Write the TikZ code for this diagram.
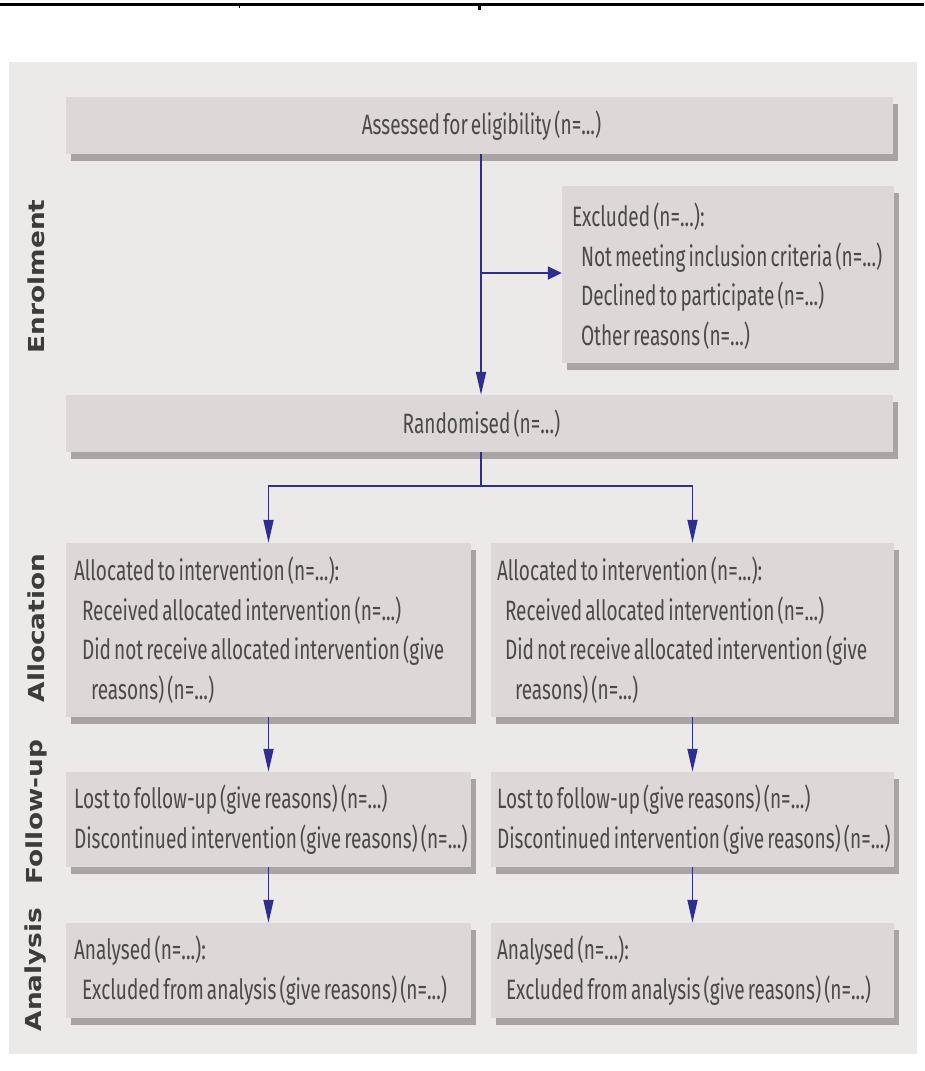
\documentclass[tikz,border=0pt]{standalone}
\usepackage{fontspec}
\setmainfont[FakeStretch=0.68,WordSpace=0.62]{Fira Sans}
\newfontfamily\labelfont[FakeStretch=1.2]{DejaVu Sans}
\usetikzlibrary{arrows.meta,shadows}
\definecolor{panel}{HTML}{EBEAE8}
\definecolor{boxc}{HTML}{DCD8D7}
\definecolor{shadowc}{HTML}{A8A4A3}
\definecolor{arrowc}{HTML}{2E2E8C}
\definecolor{textc}{HTML}{4A4A4A}
\definecolor{labc}{HTML}{3C3C3C}
\tikzset{
  box/.style={fill=boxc, draw=none, inner sep=0pt,
    drop shadow={shadow xshift=5pt, shadow yshift=-7pt, fill=shadowc, opacity=1}},
  txt/.style={inner sep=0pt, align=flush left, anchor=west, text=textc,
    font=\fontsize{28}{39.5}\selectfont},
  ctxt/.style={txt, anchor=center, align=flush center},
  side/.style={rotate=90, text=labc, font=\labelfont\bfseries\fontsize{22}{26}\selectfont, inner sep=0pt},
  link/.style={draw=arrowc, line width=1.8pt},
  varrow/.style={link, -{Triangle[length=23pt,width=10pt]}},
  harrow/.style={link, -{Triangle[length=14pt,width=13pt]}}
}
\newcommand{\ind}[1]{\hspace*{#1pt}}
\begin{document}
\begin{tikzpicture}[x=1pt,y=-1pt]
\useasboundingbox (0,0) rectangle (924,1071);
% top rule
\fill[black] (0,3) rectangle (924,5.5);
\fill[black] (238.5,5.5) rectangle (239.5,7.5);
\fill[black] (477.5,5.5) rectangle (480.5,10);
% panel
\fill[panel] (9,62) rectangle (917,1054);
% boxes
\node[box, minimum width=827pt, minimum height=57pt] (assess) at (479.5,125.5) {};
\node[box, minimum width=332pt, minimum height=177pt] (excl) at (728,274.5) {};
\node[box, minimum width=827pt, minimum height=57pt] (rand) at (479.5,423.5) {};
\node[box, minimum width=405pt, minimum height=174pt] (allocL) at (268.5,630) {};
\node[box, minimum width=403pt, minimum height=174pt] (allocR) at (692.5,630) {};
\node[box, minimum width=405pt, minimum height=95pt] (fuL) at (268.5,819.5) {};
\node[box, minimum width=403pt, minimum height=95pt] (fuR) at (692.5,819.5) {};
\node[box, minimum width=405pt, minimum height=95pt] (anL) at (268.5,970.5) {};
\node[box, minimum width=403pt, minimum height=95pt] (anR) at (692.5,970.5) {};
% texts
\node[ctxt] (assessT) at ([xshift=2pt]assess.center) {Assessed for eligibility (n=...)};
\node[ctxt] (randT) at ([xshift=2pt]rand.center) {Randomised (n=...)};
\node[txt] (exclT) at ([xshift=10pt,yshift=-1.5pt]excl.west)
  {Excluded (n=...):\\ \ind{9}Not meeting inclusion criteria (n=...)\\ \ind{9}Declined to participate (n=...)\\ \ind{9}Other reasons (n=...)};
\node[txt] (allocLT) at ([xshift=8pt]allocL.west)
  {Allocated to intervention (n=...):\\ \ind{8}Received allocated intervention (n=...)\\ \ind{8}Did not receive allocated intervention (give\\ \ind{17}reasons) (n=...)};
\node[txt] (allocRT) at ([xshift=6pt]allocR.west)
  {Allocated to intervention (n=...):\\ \ind{8}Received allocated intervention (n=...)\\ \ind{8}Did not receive allocated intervention (give\\ \ind{18}reasons) (n=...)};
\node[txt] (fuLT) at ([xshift=8pt]fuL.west)
  {Lost to follow-up (give reasons) (n=...)\\ Discontinued intervention (give reasons) (n=...)};
\node[txt] (fuRT) at ([xshift=6pt]fuR.west)
  {Lost to follow-up (give reasons) (n=...)\\ Discontinued intervention (give reasons) (n=...)};
\node[txt] (anLT) at ([xshift=8pt]anL.west)
  {Analysed (n=...):\\ \ind{8}Excluded from analysis (give reasons) (n=...)};
\node[txt] (anRT) at ([xshift=6pt]anR.west)
  {Analysed (n=...):\\ \ind{9}Excluded from analysis (give reasons) (n=...)};
% side labels
\node[side] (lenr) at (36,276.5) {Enrolment};
\node[side] (lall) at (36,628) {Allocation};
\node[side] (lfol) at (36,812) {Follow-up};
\node[side] (lana) at (36,969.5) {Analysis};
% connectors
\coordinate (branch) at (481,273);
\coordinate (split) at (481,486);
\draw[varrow] (assess.south -| branch) -- (rand.north -| branch);
\draw[harrow] (branch) -- (excl.west |- branch);
\draw[link] (rand.south -| split) -- (split);
\draw[varrow] (split) -| (allocL.north);
\draw[varrow] (split) -| (allocR.north);
\draw[varrow] (allocL.south) -- (fuL.north);
\draw[varrow] (allocR.south) -- (fuR.north);
\draw[varrow] (fuL.south) -- (anL.north);
\draw[varrow] (fuR.south) -- (anR.north);
\end{tikzpicture}
\end{document}
